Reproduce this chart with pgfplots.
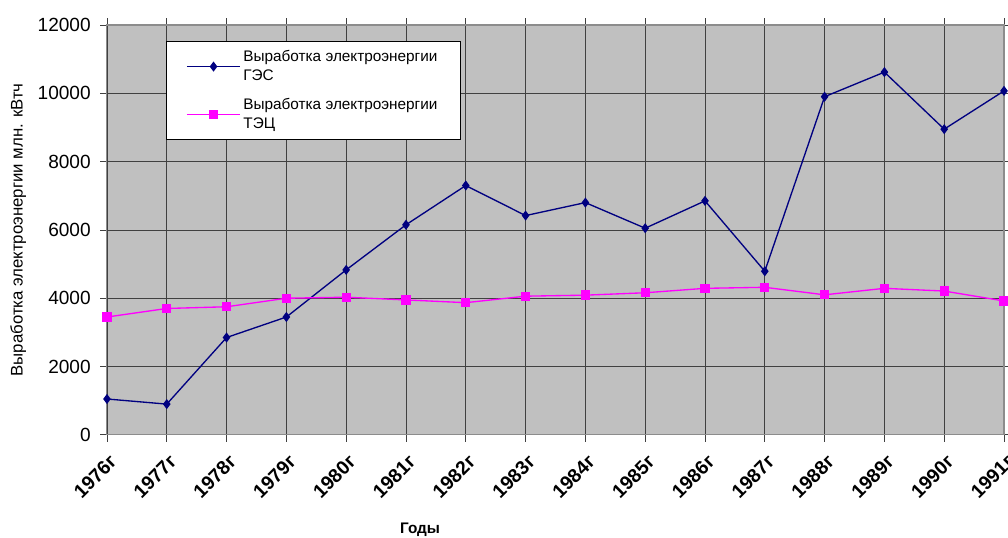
\documentclass[border=0pt]{standalone}
\usepackage{pgfplots}
\pgfplotsset{compat=1.18}
\usepackage{fontspec}
\setmainfont{Liberation Sans}
\definecolor{bgc}{RGB}{192,192,192}
\definecolor{gridc}{RGB}{64,64,64}
\definecolor{navyc}{RGB}{0,0,128}
\definecolor{magc}{RGB}{255,0,255}
\begin{document}
\begin{tikzpicture}
\begin{axis}[
  scale only axis,
  width=673pt, height=307.5pt,
  xmin=0, xmax=15, ymin=0, ymax=12000,
  xtick={0,...,15},
  xticklabels={1976г,1977г,1978г,1979г,1980г,1981г,1982г,1983г,1984г,1985г,1986г,1987г,1988г,1989г,1990г,1991г},
  ytick={0,2000,...,12000},
  scaled y ticks=false,
  /pgf/number format/assume math mode=true,
  yticklabel style={/pgf/number format/1000 sep={}, font=\fontsize{14.3}{16}\selectfont, inner sep=2pt, xshift=-5pt},
  xticklabel style={rotate=45, anchor=north east, font=\bfseries\fontsize{14.5}{16}\selectfont, inner sep=1pt, xshift=-4.5pt, yshift=-6pt},
  tick align=outside,
  major tick length=5pt,
  tick style={gridc, line width=0.6pt},
  axis background/.style={fill=bgc},
  axis line style={draw=gray!90, line width=0.8pt},
  grid=both,
  major grid style={gridc, line width=0.6pt},
  xlabel={\textbf{Годы}},
  xlabel style={at={(axis description cs:0.349,-0.231)}, anchor=center, font=\fontsize{11.5}{13}\selectfont},
  ylabel={Выработка электроэнергии млн. кВтч},
  ylabel style={at={(axis description cs:-0.099,0.5)}, anchor=center, rotate=0, font=\fontsize{12.6}{14}\selectfont},
  legend style={at={(axis description cs:0.0658,0.961)}, anchor=north west, fill=white, draw=black, line width=0.5pt,
    font=\fontsize{11.5}{14}\selectfont, cells={align=left, anchor=west}, row sep=8pt, inner xsep=15pt, inner ysep=5pt,
    minimum width=0pt},
  legend image code/.code={\draw[mark repeat=2,mark phase=2] plot coordinates {(0cm,0cm) (0.7cm,0cm) (1.4cm,0cm)};},
  clip=false,
]
\addplot[navyc, line width=1pt, mark=diamond*, mark size=3pt, mark options={fill=navyc, draw=navyc}] coordinates {
(0,1050) (1,900) (2,2850) (3,3450) (4,4830) (5,6150) (6,7300) (7,6420) (8,6800) (9,6050) (10,6850) (11,4790) (12,9900) (13,10620) (14,8950) (15,10070)};
\addlegendentry{Выработка электроэнергии\\ГЭС}
\addplot[magc, line width=1pt, mark=square*, mark size=3pt, mark options={fill=magc, draw=magc}] coordinates {
(0,3450) (1,3700) (2,3750) (3,4000) (4,4030) (5,3950) (6,3870) (7,4060) (8,4090) (9,4160) (10,4290) (11,4320) (12,4100) (13,4290) (14,4210) (15,3920)};
\addlegendentry{Выработка электроэнергии\\ТЭЦ}
\end{axis}
\pgfresetboundingbox
\path ([shift={(-80.25pt,-77.25pt)}]current axis.south west) rectangle ([shift={(3pt,18.75pt)}]current axis.north east);
\end{tikzpicture}
\end{document}
